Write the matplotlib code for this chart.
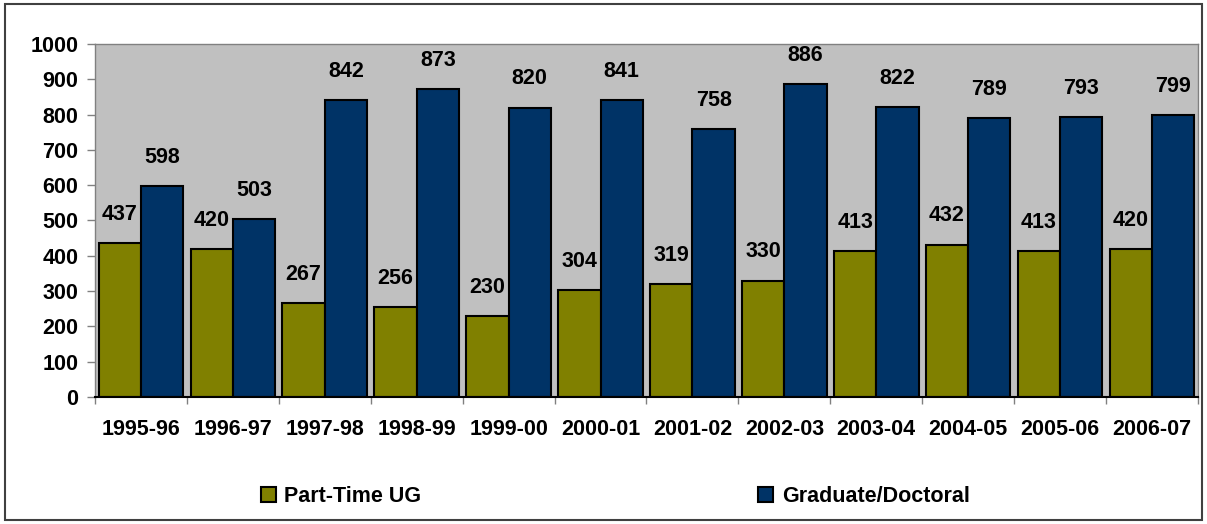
import numpy as np
import matplotlib.pyplot as plt
from matplotlib.patches import Rectangle

# --- Data ---
years = ["1995-96", "1996-97", "1997-98", "1998-99", "1999-00", "2000-01",
         "2001-02", "2002-03", "2003-04", "2004-05", "2005-06", "2006-07"]
part_time_ug = [437, 420, 267, 256, 230, 304, 319, 330, 413, 432, 413, 420]
grad_doctoral = [598, 503, 842, 873, 820, 841, 758, 886, 822, 789, 793, 799]

GREEN = "#808000"
NAVY = "#003366"
FONT = "Liberation Sans"
FS = 15.5

plt.rcParams['font.family'] = [FONT, 'DejaVu Sans']
plt.rcParams['font.weight'] = 'bold'

fig = plt.figure(figsize=(12.07, 5.24), dpi=100)
ax = fig.add_axes([0.0787, 0.2424, 0.9138, 0.6736])
ax.set_facecolor("#C0C0C0")

x = np.arange(len(years))
w = 0.46
b1 = ax.bar(x - w/2, part_time_ug, width=w, color=GREEN, edgecolor="black",
            linewidth=1.5, label="Part-Time UG")
b2 = ax.bar(x + w/2, grad_doctoral, width=w, color=NAVY, edgecolor="black",
            linewidth=1.5, label="Graduate/Doctoral")
ax.bar_label(b1, padding=13, fontsize=FS, fontweight='bold')
ax.bar_label(b2, padding=13, fontsize=FS, fontweight='bold')

ax.set_xlim(-0.5, len(years) - 0.5)
ax.set_ylim(0, 1000)
ax.set_yticks(np.arange(0, 1001, 100))
ax.tick_params(axis='y', labelsize=FS, length=6, width=1, color="#808080", pad=6)

# category boundaries as major ticks, labels at centers
ax.set_xticks(np.arange(-0.5, len(years), 1.0))
ax.set_xticklabels([])
ax.set_xticks(x, minor=True)
ax.set_xticklabels(years, minor=True, fontsize=FS, fontweight='bold')
ax.tick_params(axis='x', which='major', length=5, width=1, color="#808080")
ax.tick_params(axis='x', which='minor', length=0, pad=16)

for s in ["top", "right", "left"]:
    ax.spines[s].set_color("#808080")
    ax.spines[s].set_linewidth(1)
ax.spines["bottom"].set_color("black")
ax.spines["bottom"].set_linewidth(1.5)

legend_x = [0.216, 0.628]
for h, lx in zip([b1, b2], legend_x):
    leg = fig.legend(handles=[h], loc="center left", bbox_to_anchor=(lx, 0.052),
                     frameon=False, handlelength=0.7, handleheight=0.7,
                     handletextpad=0.4, borderpad=0, borderaxespad=0,
                     prop={'family': FONT, 'weight': 'bold', 'size': FS})

# outer chart border
fig.patches.append(Rectangle((0.004, 0.008), 0.992, 0.984, transform=fig.transFigure,
                             fill=False, edgecolor="#404040", linewidth=1.5))

plt.savefig("out.png", dpi=100)
